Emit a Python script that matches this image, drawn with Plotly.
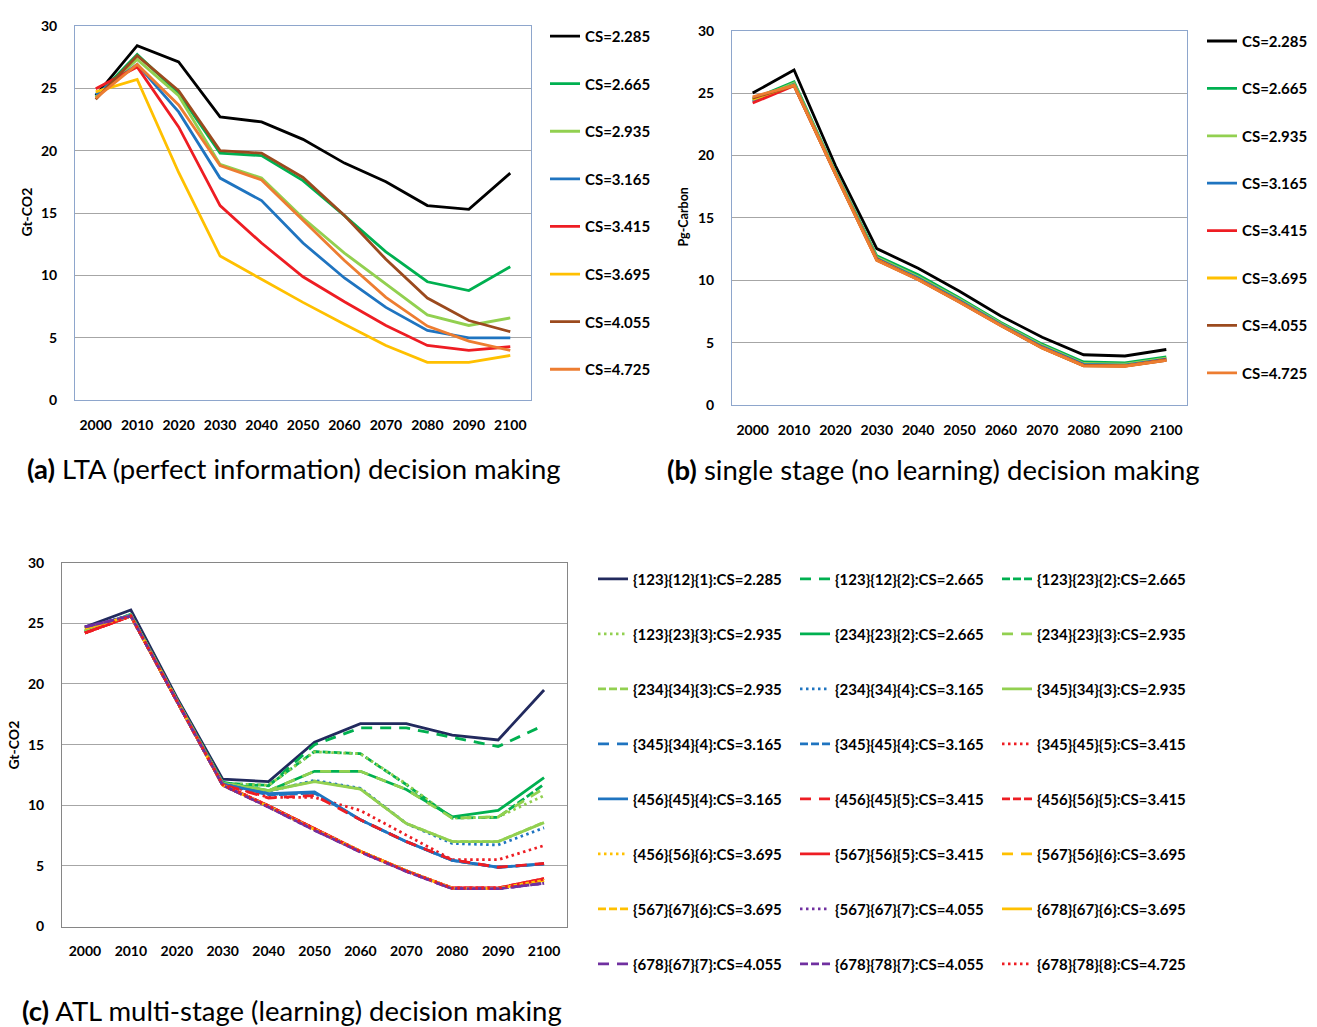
import plotly.graph_objects as go

# ---------------- data ----------------
years = ["2000", "2010", "2020", "2030", "2040", "2050", "2060", "2070", "2080", "2090", "2100"]

cs_labels = ["CS=2.285", "CS=2.665", "CS=2.935", "CS=3.165", "CS=3.415", "CS=3.695", "CS=4.055", "CS=4.725"]

# (a) LTA (perfect information)
lta_2285 = [24.4, 28.4, 27.1, 22.7, 22.3, 20.9, 19.0, 17.5, 15.6, 15.3, 18.2]
lta_2665 = [24.3, 27.7, 24.6, 19.8, 19.6, 17.6, 14.8, 11.9, 9.5, 8.8, 10.7]
lta_2935 = [24.3, 27.3, 24.4, 18.9, 17.8, 14.6, 11.8, 9.3, 6.85, 6.0, 6.6]
lta_3165 = [24.5, 26.9, 23.1, 17.8, 16.0, 12.6, 9.8, 7.45, 5.6, 5.0, 5.0]
lta_3415 = [24.95, 26.7, 21.9, 15.6, 12.6, 9.9, 7.9, 6.0, 4.4, 4.0, 4.3]
lta_3695 = [24.7, 25.7, 18.25, 11.56, 9.7, 7.85, 6.1, 4.4, 3.05, 3.05, 3.6]
lta_4055 = [24.1, 27.6, 24.8, 20.0, 19.8, 17.85, 14.8, 11.3, 8.2, 6.4, 5.5]
lta_4725 = [24.2, 26.9, 23.65, 18.8, 17.65, 14.4, 11.2, 8.25, 5.95, 4.75, 4.0]

# (b) single stage (no learning)
ss_2285 = [25.0, 26.85, 19.2, 12.55, 10.97, 9.13, 7.16, 5.45, 4.05, 3.95, 4.47]
ss_2665 = [24.5, 25.9, 18.7, 11.97, 10.45, 8.6, 6.63, 4.9, 3.47, 3.4, 3.87]
ss_2935 = [24.4, 25.8, 18.65, 11.85, 10.3, 8.5, 6.55, 4.8, 3.35, 3.3, 3.78]
ss_3165 = [24.3, 25.7, 18.6, 11.75, 10.2, 8.4, 6.48, 4.7, 3.28, 3.22, 3.7]
ss_3415 = [24.2, 25.6, 18.55, 11.7, 10.1, 8.3, 6.4, 4.62, 3.2, 3.16, 3.65]
ss_3695 = [24.5, 25.65, 18.55, 11.65, 10.1, 8.3, 6.4, 4.6, 3.18, 3.15, 3.62]
ss_4055 = [24.6, 25.6, 18.5, 11.62, 10.07, 8.28, 6.38, 4.59, 3.17, 3.14, 3.61]
ss_4725 = [24.7, 25.6, 18.5, 11.6, 10.05, 8.26, 6.37, 4.58, 3.16, 3.13, 3.6]

# (c) ATL multi-stage (learning)
atl_labels = [
    "{123}{12}{1}:CS=2.285", "{123}{12}{2}:CS=2.665", "{123}{23}{2}:CS=2.665",
    "{123}{23}{3}:CS=2.935", "{234}{23}{2}:CS=2.665", "{234}{23}{3}:CS=2.935",
    "{234}{34}{3}:CS=2.935", "{234}{34}{4}:CS=3.165", "{345}{34}{3}:CS=2.935",
    "{345}{34}{4}:CS=3.165", "{345}{45}{4}:CS=3.165", "{345}{45}{5}:CS=3.415",
    "{456}{45}{4}:CS=3.165", "{456}{45}{5}:CS=3.415", "{456}{56}{5}:CS=3.415",
    "{456}{56}{6}:CS=3.695", "{567}{56}{5}:CS=3.415", "{567}{56}{6}:CS=3.695",
    "{567}{67}{6}:CS=3.695", "{567}{67}{7}:CS=4.055", "{678}{67}{6}:CS=3.695",
    "{678}{67}{7}:CS=4.055", "{678}{78}{7}:CS=4.055", "{678}{78}{8}:CS=4.725",
]
atl_values = [
    [24.7, 26.1, 18.9, 12.15, 11.95, 15.2, 16.73, 16.73, 15.79, 15.38, 19.5],
    [24.3, 25.75, 18.7, 11.8, 11.6, 15.0, 16.38, 16.38, 15.6, 14.84, 16.6],
    [24.3, 25.7, 18.7, 11.8, 11.65, 14.43, 14.25, 11.7, 8.95, 9.0, 11.73],
    [24.4, 25.7, 18.7, 11.8, 11.65, 14.4, 14.25, 11.75, 8.95, 9.03, 10.8],
    [24.3, 25.7, 18.7, 11.9, 11.2, 12.8, 12.8, 11.3, 9.05, 9.57, 12.27],
    [24.4, 25.7, 18.7, 11.85, 11.2, 12.8, 12.8, 11.3, 8.95, 9.05, 11.4],
    [24.5, 25.7, 18.65, 11.8, 11.2, 12.0, 11.35, 8.5, 7.0, 7.0, 8.6],
    [24.6, 25.7, 18.65, 11.8, 11.15, 12.05, 11.4, 8.5, 6.85, 6.73, 8.14],
    [24.4, 25.7, 18.65, 11.8, 11.2, 11.95, 11.33, 8.49, 7.0, 7.0, 8.57],
    [24.6, 25.65, 18.6, 11.75, 10.9, 11.0, 8.8, 7.0, 5.46, 4.89, 5.16],
    [24.6, 25.65, 18.6, 11.75, 10.85, 11.0, 8.8, 7.0, 5.46, 4.89, 5.16],
    [24.2, 25.6, 18.6, 11.75, 10.65, 10.65, 9.57, 7.54, 5.51, 5.51, 6.68],
    [24.6, 25.65, 18.6, 11.75, 10.95, 11.1, 8.8, 7.0, 5.46, 4.89, 5.16],
    [24.2, 25.6, 18.6, 11.7, 10.6, 10.8, 8.8, 7.0, 5.5, 4.89, 5.2],
    [24.2, 25.6, 18.6, 11.7, 9.95, 8.05, 6.2, 4.6, 3.18, 3.18, 3.95],
    [24.6, 25.6, 18.6, 11.65, 9.9, 8.0, 6.2, 4.6, 3.15, 3.15, 3.75],
    [24.2, 25.6, 18.6, 11.7, 9.95, 8.05, 6.2, 4.6, 3.18, 3.18, 3.95],
    [24.6, 25.6, 18.6, 11.65, 9.9, 8.0, 6.2, 4.6, 3.15, 3.15, 3.75],
    [24.6, 25.6, 18.6, 11.65, 9.9, 8.0, 6.2, 4.6, 3.15, 3.15, 3.8],
    [24.7, 25.6, 18.6, 11.65, 9.85, 7.95, 6.15, 4.55, 3.12, 3.12, 3.57],
    [24.6, 25.6, 18.6, 11.65, 9.9, 8.0, 6.2, 4.6, 3.15, 3.15, 3.8],
    [24.7, 25.6, 18.6, 11.65, 9.85, 7.95, 6.15, 4.55, 3.12, 3.12, 3.57],
    [24.7, 25.6, 18.6, 11.65, 9.85, 7.95, 6.15, 4.55, 3.12, 3.12, 3.57],
    [24.2, 25.6, 18.6, 11.7, 9.95, 8.05, 6.2, 4.6, 3.18, 3.18, 3.9],
]

# ---------------- styles ----------------
NAVY = "#222A5E"; GREEN = "#00B050"; LGREEN = "#92D050"; BLUE = "#1F74C0"
RED = "#EE1D23"; YELLOW = "#FFC000"; BROWN = "#9B4A1E"; ORANGE = "#ED7D31"
PURPLE = "#7030A0"; BLACK = "#000000"

ab_colors = [BLACK, GREEN, LGREEN, BLUE, RED, YELLOW, BROWN, ORANGE]

SOLID = "solid"; LDASH = "11px,8px"; DASH = "8px,3px"; DOT = "2.5px,3.5px"
atl_styles = [
    (NAVY, SOLID), (GREEN, LDASH), (GREEN, DASH),
    (LGREEN, DOT), (GREEN, SOLID), (LGREEN, LDASH),
    (LGREEN, DASH), (BLUE, DOT), (LGREEN, SOLID),
    (BLUE, LDASH), (BLUE, DASH), (RED, DOT),
    (BLUE, SOLID), (RED, LDASH), (RED, DASH),
    (YELLOW, DOT), (RED, SOLID), (YELLOW, LDASH),
    (YELLOW, DASH), (PURPLE, DOT), (YELLOW, SOLID),
    (PURPLE, LDASH), (PURPLE, DASH), (RED, DOT),
]

W, H = 1317, 1027
def fx(px):
    return px / W
def fy(py):
    return 1 - py / H

FONT = "Lato"
LW = 2.8
fig = go.Figure()

lta = [lta_2285, lta_2665, lta_2935, lta_3165, lta_3415, lta_3695, lta_4055, lta_4725]
ss = [ss_2285, ss_2665, ss_2935, ss_3165, ss_3415, ss_3695, ss_4055, ss_4725]

for i, (lab, vals) in enumerate(zip(cs_labels, lta)):
    fig.add_trace(go.Scatter(x=years, y=vals, mode="lines", name=lab,
                             line=dict(color=ab_colors[i], width=LW),
                             xaxis="x", yaxis="y", legend="legend",
                             legendgroup="a%d" % i))
for i, (lab, vals) in enumerate(zip(cs_labels, ss)):
    fig.add_trace(go.Scatter(x=years, y=vals, mode="lines", name=lab,
                             line=dict(color=ab_colors[i], width=LW),
                             xaxis="x2", yaxis="y2", legend="legend2",
                             legendgroup="b%d" % i))
for i, (lab, vals) in enumerate(zip(atl_labels, atl_values)):
    col, dash = atl_styles[i]
    fig.add_trace(go.Scatter(x=years, y=vals, mode="lines", name=lab,
                             line=dict(color=col, width=LW, dash=dash),
                             xaxis="x3", yaxis="y3",
                             legend=["legend3", "legend4", "legend5"][i % 3],
                             legendgroup="c%d" % i))

tickfont = dict(family=FONT, size=14, color="#000000", weight="bold")

def xax(dom, anchor, border):
    return dict(domain=dom, anchor=anchor, type="category", range=[-0.5, 10.5],
                showgrid=False, zeroline=False, showline=True, mirror=True,
                linecolor=border, linewidth=1, ticks="", tickfont=tickfont,
                ticklabelstandoff=12, fixedrange=True)

def yax(dom, anchor, border):
    return dict(domain=dom, anchor=anchor, range=[0, 30], tick0=0, dtick=5,
                showgrid=True, gridcolor="#A6A6A6", gridwidth=1, zeroline=False,
                showline=True, mirror=True, linecolor=border, linewidth=1,
                ticks="", tickfont=tickfont, ticklabelstandoff=14, fixedrange=True)

BORDER_AB = "#8EA6CC"
BORDER_C = "#868686"

leg_font = dict(family=FONT, size=15, color="#000000", weight="bold")
def legend(x, y, gap):
    return dict(x=x, y=y, xanchor="left", yanchor="top", orientation="v",
                traceorder="grouped", tracegroupgap=gap, font=leg_font,
                bgcolor="rgba(0,0,0,0)", borderwidth=0, itemwidth=30)

fig.update_layout(
    width=W, height=H, margin=dict(l=0, r=0, t=0, b=0),
    paper_bgcolor="white", plot_bgcolor="white",
    showlegend=True,
    xaxis=xax([fx(75), fx(531)], "y", BORDER_AB),
    yaxis=yax([fy(398), fy(17)], "x", BORDER_AB),
    xaxis2=xax([fx(732), fx(1187)], "y2", BORDER_AB),
    yaxis2=yax([fy(403), fy(22)], "x2", BORDER_AB),
    xaxis3=xax([fx(62), fx(567)], "y3", BORDER_C),
    yaxis3=yax([fy(933), fy(563)], "x3", BORDER_C),
    legend=legend(fx(545), fy(11), 25.1),
    legend2=legend(fx(1202), fy(16), 24.9),
    legend3=legend(fx(593), fy(563), 32.5),
    legend4=legend(fx(795), fy(563), 32.5),
    legend5=legend(fx(997), fy(563), 32.5),
)

title_font = dict(family=FONT, size=27.5, color="#000000")
annos = [
    dict(text="<b>(a)</b> LTA (perfect information) decision making", x=fx(25), y=fy(467)),
    dict(text="<b>(b)</b> single stage (no learning) decision making", x=fx(665), y=fy(468)),
    dict(text="<b>(c)</b> ATL multi-stage (learning) decision making", x=fx(20), y=fy(1018)),
]
for a in annos:
    fig.add_annotation(xref="paper", yref="paper", xanchor="left", yanchor="middle",
                       showarrow=False, font=title_font, **a)
for txt, x, y, sz in [("Gt-CO2", 27, 207, 14), ("Pg-Carbon", 683, 212, 12.5), ("Gt-CO2", 14, 748, 14)]:
    fig.add_annotation(xref="paper", yref="paper", xanchor="center", yanchor="middle",
                       showarrow=False, text=txt, textangle=-90,
                       font=dict(family=FONT, size=sz, color="#000000", weight="bold"),
                       x=fx(x), y=fy(y))

fig.write_html("out.html", config={"displayModeBar": False},
               post_script="document.body.style.margin='0';document.body.style.overflow='hidden';")
